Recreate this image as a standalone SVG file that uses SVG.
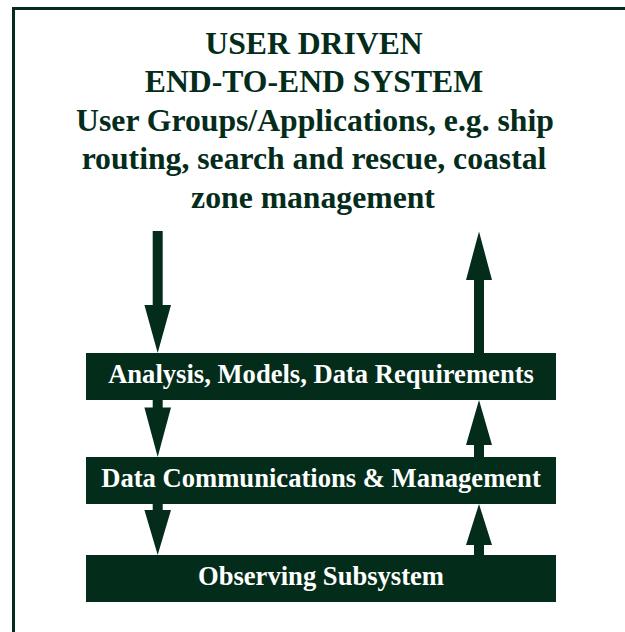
<svg xmlns="http://www.w3.org/2000/svg" width="625" height="632" viewBox="0 0 625 632">
<style>
.frame{fill:none;stroke:#042c1b;stroke-width:3}
.title{font-family:"Liberation Serif","Times New Roman",serif;font-weight:bold;font-size:31.7px;fill:#042c1b;text-anchor:middle}
.box{fill:#042c1b}
.lbl{font-family:"Liberation Serif","Times New Roman",serif;font-weight:bold;font-size:26.6px;fill:#ffffff;text-anchor:middle}
.arr{fill:#042c1b}
</style>
<rect fill="#ffffff" x="0" y="0" width="625" height="632"/>
<rect class="frame" x="13.5" y="8.5" width="640" height="660"/>
<g id="title">
<text class="title" x="314" y="53.5">USER DRIVEN</text>
<text class="title" x="314" y="92">END-TO-END SYSTEM</text>
<text class="title" x="315" y="130.5">User Groups/Applications, e.g. ship</text>
<text class="title" x="314" y="169">routing, search and rescue, coastal</text>
<text class="title" x="313" y="207.5">zone management</text>
</g>
<g id="connectors">
<polygon class="arr" points="152.7,231 162.7,231 162.7,305 171,305 157.7,353 144.4,305 152.7,305"/>
<polygon class="arr" points="474,353 484,353 484,280 492,280 479,231.5 466,280 474,280"/>
<polygon class="arr" points="152.7,400 162.7,400 162.7,407.5 171,407.5 157.7,457 144.4,407.5 152.7,407.5"/>
<polygon class="arr" points="152.7,504 162.7,504 162.7,510 171,510 157.7,555 144.4,510 152.7,510"/>
<polygon class="arr" points="474,457 484,457 484,445 492,445 479,400 466,445 474,445"/>
<polygon class="arr" points="474,555 484,555 484,545 492,545 479,504 466,545 474,545"/>
</g>
<g id="analysis">
<rect class="box" x="86" y="353" width="470" height="47"/>
<text class="lbl" x="321" y="382.7">Analysis, Models, Data Requirements</text>
</g>
<g id="datacomm">
<rect class="box" x="86" y="457" width="470" height="47"/>
<text class="lbl" x="321" y="487.3">Data Communications &amp; Management</text>
</g>
<g id="observing">
<rect class="box" x="86" y="555" width="470" height="47"/>
<text class="lbl" x="321" y="585">Observing Subsystem</text>
</g>
</svg>
